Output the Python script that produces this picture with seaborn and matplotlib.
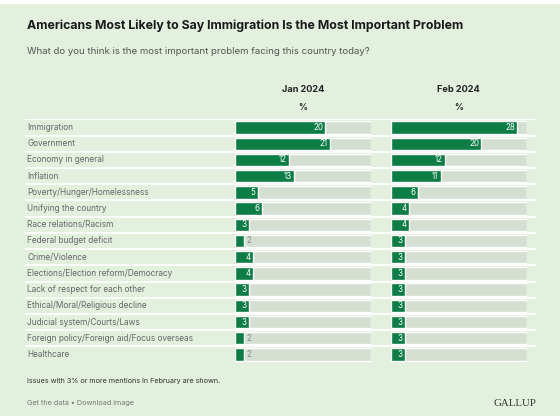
import matplotlib
matplotlib.use("Agg")
import matplotlib.pyplot as plt
import pandas as pd
import seaborn as sns

categories = [
    "Immigration",
    "Government",
    "Economy in general",
    "Inflation",
    "Poverty/Hunger/Homelessness",
    "Unifying the country",
    "Race relations/Racism",
    "Federal budget deficit",
    "Crime/Violence",
    "Elections/Election reform/Democracy",
    "Lack of respect for each other",
    "Ethical/Moral/Religious decline",
    "Judicial system/Courts/Laws",
    "Foreign policy/Foreign aid/Focus overseas",
    "Healthcare",
]
jan_2024 = [20, 21, 12, 13, 5, 6, 3, 2, 4, 4, 3, 3, 3, 2, 2]
feb_2024 = [28, 20, 12, 11, 6, 4, 4, 3, 3, 3, 3, 3, 3, 3, 3]
scale_max = 30

BG = "#e3f0de"
GREEN = "#0b7d45"
TRACK = "#d4dfd1"

sns.set_theme(style="white")
plt.rcParams["font.family"] = ["Inter", "DejaVu Sans"]

W, H = 560, 416
fig = plt.figure(figsize=(W / 100, H / 100), dpi=100, facecolor=BG)


def fx(px):
    return px / W


def fy(py):
    return 1 - py / H


# thin white strip at the very top
fig.patches.append(plt.Rectangle((0, fy(4)), 1, 4 / H, transform=fig.transFigure,
                                 facecolor="white", edgecolor="none"))

top_px, bot_px = 119.4, 362.6
n = len(categories)

# background axes: row separators and category labels
bg = fig.add_axes([0, fy(bot_px), 1, (bot_px - top_px) / H])
bg.set_xlim(0, W)
bg.set_ylim(n - 0.5, -0.5)
bg.axis("off")
bg.hlines([i - 0.5 for i in range(n)], 25, 536, color="white", lw=1.3)
for i, cat in enumerate(categories):
    bg.text(27, i, cat, ha="left", va="center", fontsize=5.95, color="#666666")

df = pd.DataFrame({"issue": categories, "Jan 2024": jan_2024, "Feb 2024": feb_2024})
df["track"] = scale_max

panels = [("Jan 2024", 235), ("Feb 2024", 391)]
width_px = 135.5
for col, left in panels:
    ax = fig.add_axes([fx(left), fy(bot_px), width_px / W, (bot_px - top_px) / H])
    ax.patch.set_alpha(0)
    sns.barplot(data=df, x="track", y="issue", order=categories, color=TRACK,
                width=0.76, saturation=1, ax=ax)
    sns.barplot(data=df, x=col, y="issue", order=categories, color=GREEN,
                width=0.76, saturation=1, ax=ax)
    ax.set_xlim(0, scale_max)
    ax.set_ylim(n - 0.5, -0.5)
    ax.axis("off")
    for i, v in enumerate(df[col]):
        if v >= 3:
            ax.text(v - 0.5, i, str(v), ha="right", va="center",
                    fontsize=5.8, color="white")
        else:
            ax.text(v + 0.5, i, str(v), ha="left", va="center",
                    fontsize=5.8, color="#888888")
    cx = left + width_px / 2
    fig.text(fx(cx), fy(89), col, ha="center", va="center",
             fontsize=6.6, fontweight="bold", color="#222222")
    fig.text(fx(cx), fy(108), "%", ha="center", va="center",
             fontsize=6.4, fontweight="bold", color="#222222")

fig.text(fx(27), fy(26), "Americans Most Likely to Say Immigration Is the Most Important Problem",
         ha="left", va="center", fontsize=8.9, fontweight="bold", color="#1a1a1a")
fig.text(fx(27), fy(51.5), "What do you think is the most important problem facing this country today?",
         ha="left", va="center", fontsize=6.95, color="#555555")
fig.text(fx(27), fy(381), "Issues with 3% or more mentions in February are shown.",
         ha="left", va="center", fontsize=5.2, color="#333333")
fig.text(fx(27), fy(403.5), "Get the data \u2022 Download image",
         ha="left", va="center", fontsize=5.2, color="#777777")
fig.text(fx(536), fy(403), "GALLUP", ha="right", va="center",
         fontsize=7.8, color="#333333", family="Liberation Serif")

fig.savefig("out.png", dpi=100, facecolor=BG)
